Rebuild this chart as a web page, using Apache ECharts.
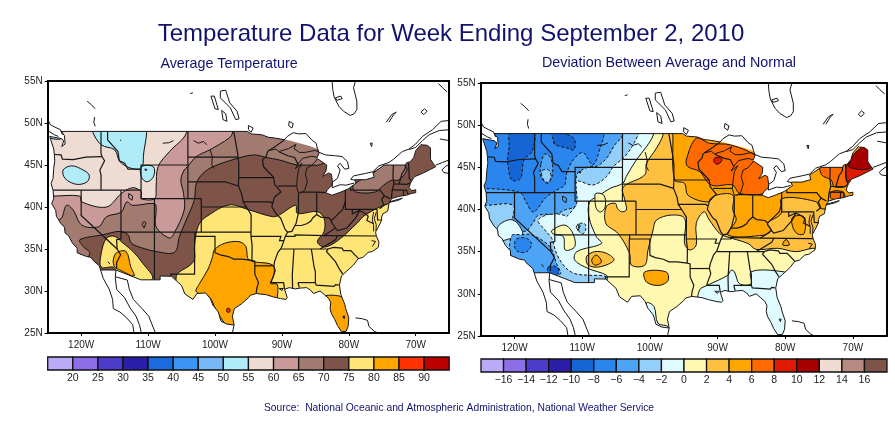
<![CDATA[<!DOCTYPE html>
<html><head><meta charset="utf-8">
<script src="https://cdn.jsdelivr.net/npm/echarts@6/dist/echarts.min.js"></script>
<style>html,body{margin:0;padding:0;background:#fff}#c{width:895px;height:423px}</style>
</head><body><div id="c"></div>
<script>
// ---------- text ----------
const mainTitle = 'Temperature Data for Week Ending September 2, 2010';
const leftTitle = 'Average Temperature';
const rightTitle = 'Deviation Between Average and Normal';
const sourceNote = 'Source:  National Oceanic and Atmospheric Administration, National Weather Service';

// ---------- colour scales (lower bound of each band) ----------
const tempBands = [15,20,25,30,35,40,45,50,55,60,65,70,75,80,85,90];
const tempColors = ['#bbaaf8','#8b6ee8','#4b3bc8','#2b1ea8','#1a6ae0','#3a95f5','#76b8f5','#b0ecf8','#eedcd2','#c99a98','#a17b6f','#7e5449','#ffe476','#ffa500','#ff3300','#bb0000'];
const devBands = [-18,-16,-14,-12,-10,-8,-6,-4,-2,0,2,4,6,8,10,12,14,16];
const devColors = ['#bbaaf8','#8b6ee8','#4b3bc8','#2b1ea8','#1565d5','#2a85ee','#4da3f5','#93cff8','#e0fbff','#fff8b0','#ffc040','#ffa500','#ff6a00','#e01a00','#a80000','#eedcd2','#b58a80','#7e5449'];

// ---------- geography (lon, lat) ----------
const coastSouthEast = [[-124.7,48.4],[-124.1,46.9],[-124,46.2],[-123.95,45.5],[-124.1,44.6],[-124.2,43.4],[-124.5,42.8],[-124.2,42],[-124.1,41],[-124.4,40.4],[-123.8,39.6],[-123.7,38.9],[-123,38],[-122.5,37.6],[-122.4,36.9],[-121.9,36.6],[-121.3,35.7],[-120.6,35.1],[-120.6,34.55],[-119.2,34.1],[-118.5,34],[-118.3,33.7],[-117.3,33],[-117.1,32.5],[-114.8,32.5],[-111.07,31.33],[-108.2,31.33],[-108.2,31.78],[-106.5,31.75],[-105,30.65],[-104.5,29.65],[-103.3,29],[-102.7,29.7],[-101.4,29.77],[-100.7,29.1],[-100.3,28.3],[-99.5,27.5],[-99.1,26.4],[-98.2,26.05],[-97.15,25.95],[-97.4,27],[-97.1,27.9],[-96,28.5],[-95,29.2],[-94.7,29.5],[-93.8,29.7],[-92.3,29.55],[-91.3,29.3],[-90.2,29.1],[-89.4,29],[-89.2,29.2],[-89.6,30.2],[-88.9,30.4],[-88,30.25],[-87.2,30.35],[-86.3,30.4],[-85.7,30.1],[-85.3,29.7],[-84.3,30],[-83.7,29.6],[-83,29.1],[-82.7,28.6],[-82.8,27.9],[-82.6,27.3],[-82.1,26.6],[-81.7,25.9],[-81.1,25.15],[-80.4,25.2],[-80.1,25.8],[-80,26.8],[-80.5,28],[-80.6,28.4],[-81.2,29.6],[-81.4,30.7],[-81.1,31.8],[-80.4,32.3],[-79.3,33.1],[-78.6,33.85],[-77.9,34],[-77.1,34.6],[-76.5,34.7],[-75.6,35.2],[-75.5,35.8],[-75.9,36.6],[-76,37],[-75.95,37.1],[-75.6,37.6],[-75.1,38.4],[-75.1,38.8],[-74.9,39.2],[-74.2,39.5],[-74,40.4],[-73.9,40.6],[-73.6,41],[-72.5,41.27],[-71.4,41.4],[-70.7,41.6],[-70,41.7],[-70,42.05],[-70.6,41.95],[-71,42.3],[-70.8,42.8],[-70.6,43.1],[-70.2,43.6],[-69,44],[-68,44.4],[-67,44.8],[-67.4,45.2],[-67.8,45.7],[-67.8,47.05],[-68.3,47.35],[-69,47.4],[-69.2,47.45],[-70,46.7],[-70.3,45.9],[-70.8,45.4],[-71.4,45.25],[-71.5,45],[-74.7,45],[-75.8,44.4],[-76.4,44.1],[-76.2,43.55],[-77.5,43.25],[-79.1,43.25],[-79,42.9],[-78.9,42.85],[-80.1,42.15],[-81.3,41.75],[-82.5,41.4],[-83.45,41.7],[-83.15,42.1],[-82.5,42.6],[-82.45,43],[-82.6,43.9],[-83,44.05],[-83.9,43.65],[-83.4,44.3],[-83.3,45],[-84.7,45.75]];
const michiganShore = [[-85,45.4],[-85.6,44.9],[-86.2,44.7],[-86.5,43.9],[-86.2,43],[-86.6,42],[-87.2,41.65],[-87.6,41.8],[-87.8,42.5],[-87.7,43.5],[-87.5,44.5],[-87,45.2],[-88,44.55],[-87.6,45.1],[-86.9,45.8],[-85.5,46.05],[-84.75,45.9]];
const superiorShore = [[-84.4,46.5],[-85,46.75],[-86.5,46.5],[-87.4,46.5],[-88.2,46.95],[-87.9,47.45],[-89,46.95],[-90.5,46.6],[-90.9,46.9],[-92,46.7],[-90.8,47.3],[-89.6,48]];
const gridSuperiorEdge = [[-84.4,46.5],[-84.6,46.9],[-86,47.3],[-88.7,47.9],[-90,48.1],[-91,48.2]];
const borderNorthWest = [[-91,48.2],[-92,48.3],[-93,48.6],[-94.6,48.7],[-95.15,49],[-123,49],[-122.5,48.5],[-122.4,47.5],[-122.9,47.2],[-122.6,47.9],[-123,48.15]];

const stateLines = [
 [[-124,46.25],[-123,46.2],[-122.8,45.7],[-121.2,45.65],[-119.3,45.93],[-116.9,46]],
 [[-117.03,49],[-117.04,46.4],[-116.9,46],[-116.5,45.5],[-117.2,44.4],[-117.03,43.8],[-117.03,42]],
 [[-124.2,42],[-111.05,42]],
 [[-120,42],[-120,39],[-114.63,35],[-114.1,34.3],[-114.7,33.4],[-114.7,32.7]],
 [[-114.05,42],[-114.05,36.2],[-114.7,36.1],[-114.63,35]],
 [[-114.05,37],[-94.62,37]],
 [[-109.05,41],[-109.05,31.33]],
 [[-111.05,44.5],[-111.05,41],[-102.05,41]],
 [[-116.05,49],[-116.05,48],[-114.5,46.6],[-114.3,45.5],[-113.5,45.2],[-113,44.5],[-111.05,44.5],[-111.05,45],[-104.05,45]],
 [[-104.05,49],[-104.05,41]],
 [[-102.05,41],[-102.05,37]],
 [[-102.05,40],[-95.3,40]],
 [[-104.05,45.94],[-96.56,45.94]],
 [[-104.05,43],[-98.5,43],[-96.5,42.5]],
 [[-97.2,49],[-96.6,46.3],[-96.56,45.94],[-96.45,45.3],[-96.45,43.5],[-91.22,43.5]],
 [[-96.45,43.5],[-96.5,42.5],[-96,41.5],[-95.8,40.6],[-95.3,40],[-94.6,39.1],[-94.62,36.5],[-94.45,35.4],[-94.48,33.64],[-94.05,33.55],[-94.05,32],[-93.5,31],[-93.75,30.3],[-93.85,29.7]],
 [[-95.8,40.6],[-91.7,40.6],[-91.4,40.4]],
 [[-92.1,46.7],[-92.3,46.1],[-92.9,45.6],[-92.75,44.8],[-91.22,43.5],[-91.1,42.7],[-90.15,41.8],[-91.1,41.2],[-91.4,40.4],[-91.5,40],[-90.7,39],[-90.2,38.7],[-89.5,37.3],[-89.15,37],[-89.5,36.5],[-89.7,36],[-90.1,35.1],[-90.6,34.6],[-91.1,33.5],[-91.2,33],[-91,32.4],[-91.5,31.3],[-91.6,31],[-89.75,31],[-89.6,30.2]],
 [[-90.64,42.5],[-87.8,42.5]],
 [[-90.4,46.55],[-89.1,46.1],[-88.1,45.9],[-87.6,45.1]],
 [[-87.53,41.7],[-87.53,39.3],[-87.9,38],[-88.05,37.8],[-88.5,37.1],[-89.15,37]],
 [[-84.8,41.7],[-84.8,39.1]],
 [[-87.2,41.76],[-84.8,41.76],[-83.45,41.7]],
 [[-88.05,37.8],[-87.1,37.8],[-86.3,38],[-85.7,38.3],[-85.4,38.7],[-84.8,39.1],[-84.2,38.8],[-83,38.7],[-82.6,38.4],[-81.8,39],[-80.9,39.7],[-80.52,40.64]],
 [[-80.52,42],[-80.52,39.72],[-75.79,39.72],[-75.7,38.46],[-75.05,38.45]],
 [[-79.76,42.27],[-79.76,42],[-75.35,42],[-74.7,41.35],[-75.1,40.9],[-74.75,40.2],[-75.4,39.8]],
 [[-74.7,41.35],[-73.9,41]],
 [[-79.48,39.72],[-79.48,39.2],[-78.4,39.6],[-77.7,39.3],[-77.1,38.9],[-77.3,38.4],[-76.3,38]],
 [[-78.4,39.6],[-78.9,38.8],[-80.3,37.5],[-81.7,37.2],[-82,37.5],[-82.6,38.2],[-82.6,38.4]],
 [[-82,37.5],[-83.68,36.6]],
 [[-89.5,36.5],[-88.05,36.5],[-88.05,36.68],[-83.68,36.6],[-75.9,36.55]],
 [[-94.62,36.5],[-90.15,36.5],[-90.35,36],[-89.7,36]],
 [[-81.68,36.59],[-82,36.1],[-84.3,35]],
 [[-90.1,35],[-83.1,35],[-82.3,35.2],[-81,35.1],[-80.8,34.8],[-79.7,34.8],[-78.55,33.85]],
 [[-83.1,35],[-83.35,34.7],[-82,33.5],[-81.4,32.6],[-80.9,32]],
 [[-85.6,35],[-85.2,32.9],[-85,32.3],[-85,31],[-84.86,30.7],[-82.2,30.55],[-82,30.75],[-81.5,30.7]],
 [[-87.6,31],[-85,31]],
 [[-87.6,31],[-87.4,30.4]],
 [[-88.2,35],[-88.45,31.9],[-88.4,30.3]],
 [[-94.05,33],[-91.2,33]],
 [[-100,34.56],[-99.2,34.3],[-98,34.1],[-97.2,33.8],[-96,33.8],[-94.48,33.64]],
 [[-103,37],[-103,36.5],[-100,36.5],[-100,34.56]],
 [[-103.04,36.5],[-103.05,32],[-106.6,32],[-106.5,31.75]],
 [[-71.5,45],[-71.6,44.5],[-72.05,44],[-72.5,42.73]],
 [[-73.35,45],[-73.4,43.6],[-73.25,42.75],[-71.3,42.7],[-70.8,42.87]],
 [[-71.08,45.3],[-70.97,43.4],[-70.7,43.1]],
 [[-73.27,42.75],[-73.5,42.05],[-73.65,41]],
 [[-73.5,42.05],[-71.8,42.02],[-71.38,42.02],[-71.15,41.5]],
 [[-71.8,42.02],[-71.85,41.32]]
];

const lakeLines = [
 [[-112.9,41.6],[-112.3,41.3],[-112.4,40.8],[-112.9,41.1],[-112.9,41.6]],
 [[-107.8,47.6],[-106.9,47.65],[-106.2,47.9]],
 [[-103.2,47.9],[-102.5,47.6],[-101.7,47.8],[-101.2,47.4]],
 [[-100.7,46.8],[-100.4,45.9],[-100.5,45.1],[-100.2,44.6]],
 [[-110.9,37.9],[-110.6,37.5],[-110.3,38.1],[-110.6,38.3],[-110.9,37.9]],
 [[-80.9,27],[-80.6,27],[-80.7,26.7],[-80.9,27]],
 [[-90.4,30.3],[-89.8,30.3],[-90,30.05],[-90.4,30.3]],
 [[-114.2,47.9],[-114,48]],
 [[-116,33.5],[-115.7,33.2]],
 [[-110.5,44.5],[-110.2,44.5],[-110.3,44.3],[-110.5,44.5]],
 [[-76.3,39.4],[-76.5,38.5],[-76.3,37.9],[-76.3,37.1]],
 [[-75.95,37.15],[-75.9,37.9],[-76.2,38.6],[-75.9,39.4]],
 [[-76.5,35.3],[-76,35.9],[-76.6,36]],
 [[-74,40.6],[-72,41.05],[-72.6,40.8],[-73.9,40.55]]
];

const foreignLines = [
 [[-125,50.4],[-124.6,49.8],[-123.9,49.5],[-123.1,49.2],[-122.8,48.6]],
 [[-125,49.1],[-124,48.6],[-123.4,48.4]],
 [[-119.1,52.6],[-118.5,52.2],[-117.9,51.7]],
 [[-118,50.7],[-118.1,50.1],[-117.9,49.6]],
 [[-103.7,53.5],[-103.3,53.6]],
 [[-99.2,53.8],[-98.4,53.9],[-97.8,52.4],[-96.7,51.4],[-96.4,50.5],[-96.9,50.4],[-97.7,51.8],[-99.2,53],[-99.2,53.8]],
 [[-100.6,53.2],[-100.1,53.2],[-99.5,51.6],[-100,51.7],[-100.6,53.2]],
 [[-99,51.5],[-98.4,51.1],[-98.2,50.2],[-98.8,50.4],[-99,51.5]],
 [[-95,49.7],[-94.3,49.4],[-94.6,48.9],[-95,49.2],[-95,49.7]],
 [[-88.9,50.2],[-88.3,49.9],[-88.5,49.4],[-89,49.7],[-88.9,50.2]],
 [[-92,46.7],[-91,47.2],[-89.6,48],[-89.2,48.4],[-88.3,48.85],[-87.5,48.7],[-86.4,48.75],[-85.5,47.95],[-84.9,47.6],[-84.7,47],[-84.5,46.5]],
 [[-84.4,46.5],[-83.5,46.2],[-82,46.1],[-81,46],[-80.2,45.4],[-80,44.6],[-80.6,44.5],[-81.3,45.2],[-81.7,44.9],[-81.3,44.4],[-81.7,43.4],[-82.4,43]],
 [[-82.45,42.9],[-82.5,42.3],[-81.3,42.65],[-80.4,42.6],[-79.2,42.85]],
 [[-79.1,43.2],[-79.7,43.3],[-79.3,43.7],[-77.5,44],[-76.4,44.2],[-75.5,44.9],[-74,45.3],[-73.3,45.7],[-72,46.6],[-71,46.9],[-70,47.5],[-69,48.4],[-67.5,49.2],[-66.2,50.2],[-65,50.3]],
 [[-71,46.85],[-70,47.1],[-69,47.9],[-68,48.6],[-66.5,49.1],[-65,49.2]],
 [[-66.4,48.1],[-65,47.9]],
 [[-67,45],[-66,45.3],[-65,45.6]],
 [[-65,44],[-65.8,44.1],[-66.1,44.4],[-65.6,44.8],[-65,45.1]],
 [[-82.5,55],[-82.4,54],[-82.2,53.1],[-81.5,52],[-80.8,51.4],[-79.8,50.9],[-79.2,51.1],[-78.8,51.6],[-78.8,52.6],[-79.3,54.2],[-79,55]],
 [[-82,53],[-81.2,53.2],[-81,52.9],[-81.8,52.7],[-82,53]],
 [[-76.8,47.6],[-76.5,47.6],[-76.6,47.2],[-76.8,47.6]],
 [[-74.4,50.1],[-73.6,51],[-72.9,51.3],[-73.3,51],[-74,50.1]],
 [[-69.2,51.3],[-68.7,51.7],[-68.3,51.4],[-68.8,51],[-69.2,51.3]],
 [[-66.6,54.7],[-66,54.2],[-65.3,53.7]],
 [[-117.1,32.5],[-116.7,31.5],[-115.8,30.2],[-115.3,29],[-115.2,27.9],[-114.2,27.5],[-113.2,26.8],[-112.3,26],[-112.1,25]],
 [[-114.8,32.5],[-114.9,31.6],[-114.7,30.2],[-113.5,29.2],[-112.7,28],[-111.8,27],[-111.3,26],[-111,25]],
 [[-114.9,31.7],[-113.1,31.3],[-112.8,30.2],[-112.2,29],[-110.9,27.9],[-109.9,27],[-109.2,25.6],[-108.9,25]],
 [[-97.15,25.95],[-97.4,25]],
 [[-79,26.8],[-78,26.7],[-77.2,26.5],[-77,25.8],[-76.2,25.2],[-75.6,25]]
];

// ---------- filled bands (band = lower bound of the colour scale; later ones paint on top) ----------
const tempRegions = [
 {band:65, pts:[[-128,52],[-84,52],[-84.5,46.8],[-83.7,45.4],[-84.5,45],[-86,45],[-87.7,45],[-90.4,45.6],[-92.4,45.9],[-94.1,46.2],[-96.6,45.8],[-100.3,44.8],[-101.8,44],[-102.8,42.8],[-103.1,40.8],[-104.3,38.45],[-105.3,36.5],[-106.05,34.6],[-108.8,34.7],[-110.8,35.1],[-112.5,35.7],[-113,36.7],[-114.2,37.1],[-116.7,36.7],[-120.2,36.1],[-119.7,35.3],[-118.7,34.5],[-120,33.5],[-128,33.5]]},
 {band:65, pts:[[-79.3,42.6],[-75.55,44.6],[-76,46],[-71.6,46],[-71.6,45],[-71.3,44.4],[-72.6,43.2],[-73.55,43.2],[-74.8,42.6],[-76,41.8],[-79,41.8]]},
 {band:60, pts:[[-97.4,52],[-97.4,48.8],[-97.9,48.2],[-100.8,46.8],[-102.8,46],[-104.1,44.8],[-104.6,44.4],[-105.1,43.2],[-104.7,41.6],[-104.6,39.64],[-106.1,36.9],[-106.8,36.3],[-108.8,37.65],[-108.8,39.64],[-109,40.4],[-112.3,40.2],[-113.2,40.6],[-114,39.4],[-116.2,38.85],[-117.4,37.65],[-119.9,37.85],[-121.2,39.64],[-122.2,40.2],[-123.2,38.5],[-128,38.5],[-128,52]]},
 {band:55, pts:[[-104.3,52],[-104.3,48.8],[-106.8,46.6],[-108.5,44.8],[-108.8,42.4],[-109,41],[-111,41],[-111,41.8],[-112.3,42.3],[-114,41.6],[-116.2,40],[-119.9,40.6],[-120.2,41.3],[-124.2,41.3],[-128,41.3],[-128,52]]},
 {band:50, pts:[[-118.3,50],[-118.3,49],[-117,47.4],[-115,46.8],[-114.2,45.4],[-112.5,44.6],[-111,44.6],[-110.7,46],[-110.7,50]]},
 {band:50, pts:[[-111,44.8],[-109.2,44.8],[-109.2,43.6],[-110.2,43],[-111,43.6]]},
 {band:50, pts:[[-122.7,44.4],[-121.4,44.9],[-119.7,44.4],[-118.8,43.8],[-119.1,43],[-120.7,42.7],[-122.4,43.4]]},
 {band:50, pts:[[-125,49],[-123,49],[-122.7,48.2],[-124.6,48.2]]},
 {band:75, pts:[[-72,40.4],[-74.06,40.4],[-77.55,39.05],[-78.8,38.05],[-81.25,36.25],[-83,35.35],[-84,35.3],[-84.7,35.9],[-83.7,37.06],[-83.7,38.65],[-84.7,39.44],[-87.7,39.25],[-87.95,40.2],[-90.4,39.05],[-91.4,38.85],[-94.9,39.65],[-97.87,40.25],[-101.3,38.85],[-102.3,38.05],[-102.8,36.9],[-103.07,35.3],[-103.2,33.5],[-105.6,32.1],[-105.8,31.7],[-105.8,24],[-70,24]]},
 {band:75, pts:[[-116.2,36.3],[-115,36.5],[-113.75,35.7],[-112.25,34.7],[-110.8,33.3],[-109.3,31.5],[-111.5,31],[-112.25,31.4],[-114.7,32.4],[-115.2,32.85],[-117,32.85],[-117,34.5]]},
 {band:80, pts:[[-115.2,33.7],[-114.7,34.56],[-113.3,34.7],[-112.6,32.9],[-112.1,31.8],[-114.2,32.5],[-115,32.9]]},
 {band:80, pts:[[-100.1,34.9],[-98.6,35.67],[-96.4,35.87],[-95.4,35.3],[-94.9,33.7],[-91.4,33.1],[-91.2,31.9],[-91.7,30.9],[-90.7,30.8],[-90.7,29.2],[-91,28],[-97,24],[-98.4,25.95],[-99.85,27.7],[-100.85,29.3],[-102.8,29.9],[-102.3,30.9],[-101.1,32.5],[-100.35,34.1]]},
 {band:80, pts:[[-84,29.1],[-81.4,29.4],[-80,28.5],[-79,27],[-79,24.5],[-84,24.5]]},
 {band:85, pts:[[-98.2,27.9],[-97.8,27.9],[-97.8,27.5],[-98.2,27.5]]}
];
const tempBase = 70;
const tempLabels = [['55',-119.9,42.4],['60',-110,41.3],['65',-121.9,40.6],['70',-94.15,46.6],['75',-98.1,40.6],['65',-106,36.3],['70',-106,34.6],['80',-98,36],['70',-78.2,41.4],['75',-82.15,35.15],['75',-114.1,36.2]];

const devRegions = [
 {band:-2, pts:[[-128,50],[-99.5,50],[-99.5,48.83],[-100.5,47.45],[-102,45.87],[-103.5,43.9],[-104,43.1],[-105.9,42.5],[-107.4,41.7],[-108.9,40.9],[-109,39.1],[-107.9,36.77],[-107.15,35.97],[-110.8,35],[-111.1,34],[-109.1,33],[-106.4,32.2],[-106.4,31.6],[-110,29],[-128,29]]},
 {band:-4, pts:[[-128,50],[-101.6,50],[-101.75,48.83],[-103.5,46.46],[-105.4,45.08],[-106.4,43.9],[-108.4,42.9],[-110.8,43.3],[-110.9,40.7],[-112.3,39.15],[-112.56,39.3],[-114.5,39.5],[-116.5,38.75],[-115.5,37.56],[-114.5,36.57],[-113.8,34.8],[-112.56,33.2],[-111.1,32.4],[-108.9,32.2],[-106.66,32.1],[-106.4,31.6],[-110,30],[-128,30]]},
 {band:-6, pts:[[-128,50],[-104,50],[-104,48.8],[-105.2,47.65],[-106.4,46.07],[-107.9,45.1],[-108.9,45.1],[-110.8,44.1],[-110.9,40.5],[-112.56,39.95],[-113.8,39.5],[-116.5,39.3],[-117.2,38.5],[-118.5,37.4],[-120.2,38.55],[-120.2,40.5],[-124.1,40.5],[-128,40.5]]},
 {band:-2, pts:[[-122.5,37.9],[-120.7,38.8],[-119.5,38.3],[-118.8,36.9],[-120.4,36.6],[-122,36.4]]},
 {band:-6, pts:[[-120.4,36.9],[-119,37],[-117.5,37],[-114.8,35.6],[-113.8,33.6],[-113.3,32.3],[-118,32.3],[-120.5,34.5]]},
 {band:-8, pts:[[-128,50],[-106.8,50],[-106.8,48.8],[-107.2,47.65],[-108.4,45.3],[-109.9,46.75],[-111.3,45.9],[-112.3,44.3],[-112.6,42.9],[-113.8,42.3],[-115.4,41.4],[-117.2,39.7],[-118.3,40.9],[-119.2,42],[-124.1,42.5],[-128,42.5]]},
 {band:-6, pts:[[-116.1,45.4],[-115.5,46.6],[-114.6,46],[-114.4,44.1],[-115.1,43.1],[-116.1,43.9]]},
 {band:-4, pts:[[-115.9,44.6],[-115,44.7],[-114.6,43.9],[-115.1,43.2],[-115.9,43.8]]},
 {band:-10, pts:[[-120.6,49.2],[-117.2,49.2],[-117.4,46.9],[-118.6,45.9],[-119.1,43.7],[-120.4,43.5],[-121,45.4],[-121,46.2],[-120.8,47.4]]},
 {band:-10, pts:[[-114.4,49.2],[-111.3,48.5],[-111.2,47.1],[-112.3,47.3],[-114,47.7],[-114.3,48.3]]},
 {band:-8, pts:[[-119.7,36.5],[-118.3,36.6],[-117.5,35.9],[-118.2,35],[-119.5,35],[-120,35.7]]},
 {band:-10, pts:[[-115,33.2],[-113.8,33.2],[-113.5,32.4],[-115,32.4]]},
 {band:0, pts:[[-108,41.9],[-106.8,41.7],[-106.6,40.3],[-107.3,39.7],[-107.9,40.1],[-108.1,41.1]]},
 {band:0, pts:[[-114.5,37.5],[-112.6,38.15],[-111.4,37.2],[-111.1,35.6],[-112.5,35.2],[-112.8,36.8],[-114.3,37.1]]},
 {band:-4, pts:[[-110.4,38.3],[-109.6,38.3],[-109.5,37.5],[-110,37.1],[-110.5,37.5]]},
 {band:-2, pts:[[-100.5,28.9],[-99.4,28.5],[-98.8,26.5],[-97.3,26.1],[-97.6,25],[-100.5,25]]},
 {band:-2, pts:[[-92.66,30.44],[-91.43,31.04],[-88.48,32.2],[-88,32.8],[-87.5,32.6],[-86.76,31.2],[-85.04,31.2],[-85.04,32.6],[-81.1,32.7],[-79,32],[-79,25],[-83,25],[-84,29],[-92.66,28.5]]},
 {band:2, pts:[[-98.06,50],[-98.06,48.83],[-99.04,47.25],[-100.5,45.47],[-100.76,44.1],[-103.96,42.63],[-103.7,41.13],[-103.47,39.94],[-104.2,39.74],[-104.8,40.14],[-105.1,40.73],[-106.4,40.4],[-106.5,38.35],[-104.7,37.16],[-103,34.8],[-102.73,33.4],[-100.76,33.4],[-100.27,35.2],[-99.53,37.56],[-99.04,38.74],[-96.8,39.34],[-94.87,38.94],[-94.87,35.98],[-94.13,35.2],[-93.15,35.78],[-93.15,38.35],[-92,39.73],[-91.2,38.74],[-89.7,37.16],[-88.97,36.85],[-85.5,35.97],[-84.3,35.27],[-81.1,35.4],[-78.4,35],[-75.9,35.4],[-70,35.4],[-65,40],[-65,50]]},
 {band:4, pts:[[-96.6,50],[-96.6,48.83],[-96.35,43.5],[-94.87,43.1],[-94.38,41.7],[-91.43,40.9],[-90.2,41.7],[-87.74,41.7],[-87.74,39.94],[-87.25,38.76],[-88.48,36.97],[-83.07,36.97],[-82.09,37.56],[-82.6,38.35],[-80.6,39.53],[-80.5,41.3],[-75.45,40.93],[-74.7,40.1],[-72,40.3],[-65,42],[-65,50]]},
 {band:4, pts:[[-78.9,39.1],[-77.2,39.1],[-77.2,37.16],[-78.15,37.1],[-78.9,37.95]]},
 {band:4, pts:[[-80.37,35.8],[-79.87,36.45],[-79.4,35.8]]},
 {band:4, pts:[[-100.76,32.6],[-97.6,32.6],[-97.3,31.6],[-98.6,31],[-100.5,31.4]]},
 {band:2, pts:[[-109.36,34.4],[-108.14,35],[-106.4,34.8],[-105.3,34],[-107.4,33.2],[-109.1,33.4]]},
 {band:4, pts:[[-108.6,34],[-107.9,34.6],[-107.15,33.8],[-108.14,33.4]]},
 {band:6, pts:[[-94.62,45.87],[-93.15,48.44],[-91.18,47.85],[-88,47.65],[-84.05,46.26],[-83.07,45.08],[-82.1,43.1],[-83.07,41.92],[-86.76,41.92],[-87.74,42.9],[-90.94,42.9],[-92.66,44.5],[-94.38,45.08]]},
 {band:8, pts:[[-90.45,46.07],[-89.7,46.2],[-89.36,45.8],[-90.05,45.36],[-90.54,45.67]]},
 {band:6, pts:[[-74.7,45.4],[-70.88,45.4],[-70.88,42.9],[-72.75,42.7],[-73.2,43.5],[-74.6,44.1]]},
 {band:6, pts:[[-73.2,42.1],[-71.5,42.1],[-71.5,41.3],[-73.2,41.3]]},
 {band:8, pts:[[-70.9,45.2],[-69.55,45.9],[-67,45],[-67,44],[-69.5,43.5],[-70.9,43.5]]},
 {band:10, pts:[[-70.5,45],[-70.3,46],[-69.3,47],[-67.6,47.6],[-67.3,45]]}
];
const devBase = 0;
const devLabels = [['−8',-115.6,48.3],['−6',-111.8,45],['−4',-109.86,45],['−2',-109.86,43.3],['−6',-121.75,42.7],['−4',-121.9,40.6],['0',-111.9,35.07],['2',-108,33.1],['2',-102,32.9],['6',-88.1,42.9],['2',-92,39.5],['4',-86,39.1],['0',-88,32.7]];

// ---------- axis ticks ----------
const lonTicks = [-120,-110,-100,-90,-80,-70];
const latTicks = [25,30,35,40,45,50,55];

// ---------- drawing ----------
const FONT = '"Liberation Sans", Arial, sans-serif';
const INK = '#1c1c1c';
const lonFmt = v => Math.abs(v) + 'W';
const latFmt = v => v + 'N';
const fillOutline = coastSouthEast.concat(gridSuperiorEdge, borderNorthWest);
const coastOutline = coastSouthEast.concat(michiganShore, superiorShore, borderNorthWest, [coastSouthEast[0]]);

function colorOf(bands, colors, b){ return colors[bands.indexOf(b)]; }

function mapAxes(gridIndex){
  const base = {gridIndex, type:'value', z:10, splitLine:{show:false}};
  const line = {show:true, onZero:false, lineStyle:{color:'#000', width:2}};
  const txt = {color:INK, fontFamily:FONT, fontSize:10};
  return {
    x:[
      Object.assign({}, base, {position:'bottom', min:-125, max:-65, axisLine:line,
        axisTick:{show:true, length:3, inside:false, customValues:lonTicks, lineStyle:{color:'#000'}},
        axisLabel:Object.assign({show:true, margin:7, formatter:lonFmt, customValues:lonTicks, showMinLabel:true, showMaxLabel:true}, txt)}),
      Object.assign({}, base, {position:'top', min:-125, max:-65, axisLine:line, axisTick:{show:false}, axisLabel:{show:false}})
    ],
    y:[
      Object.assign({}, base, {position:'left', min:25, max:55, axisLine:line,
        axisTick:{show:true, length:3, customValues:latTicks, lineStyle:{color:'#000'}},
        axisLabel:Object.assign({show:true, margin:5, formatter:latFmt, customValues:latTicks, showMinLabel:true, showMaxLabel:true}, txt)}),
      Object.assign({}, base, {position:'right', min:25, max:55, axisLine:line, axisTick:{show:false}, axisLabel:{show:false}})
    ]
  };
}

function polyItem(api, pts, style, smooth){
  const points = pts.map(p => api.coord(p));
  return {type:'polygon', shape:{points, smooth:smooth||0}, style, silent:true};
}

function mapSeries(xi, yi, bands, colors, baseBand, regions, labels){
  const common = {type:'custom', coordinateSystem:'cartesian2d', xAxisIndex:xi, yAxisIndex:yi, clip:true, silent:true, animation:false};
  const ring = [[-128,60],[-60,60],[-60,20],[-128,20],[-128,60]];
  const maskPts = ring.concat([fillOutline[0]], fillOutline, [fillOutline[0]], [[-128,60]]);
  const lines = [].concat(stateLines, lakeLines, foreignLines, [coastOutline]);
  return [
    Object.assign({}, common, {z:2, data:[[0]], renderItem:(p,api)=>polyItem(api, fillOutline, {fill:colorOf(bands,colors,baseBand)})}),
    Object.assign({}, common, {z:3, data:regions.map((r,i)=>[i]), renderItem:(p,api)=>{
      const r = regions[p.dataIndex];
      return polyItem(api, r.pts, {fill:colorOf(bands,colors,r.band), stroke:'#111', lineWidth:1, lineDash:r.band<-2?[3,2]:null}, 0.35);
    }}),
    Object.assign({}, common, {z:4, data:[[0]], renderItem:(p,api)=>polyItem(api, maskPts, {fill:'#fff'})}),
    Object.assign({}, common, {z:5, data:lines.map((l,i)=>[i]), renderItem:(p,api)=>({
      type:'polyline', silent:true, shape:{points:lines[p.dataIndex].map(q=>api.coord(q))}, style:{fill:'none', stroke:'#161616', lineWidth:p.dataIndex<stateLines.length?1.2:1}
    })}),
    {type:'scatter', xAxisIndex:xi, yAxisIndex:yi, z:6, silent:true, animation:false, symbolSize:1, itemStyle:{opacity:0},
      data:labels.map(l=>({value:[l[1],l[2]], name:l[0]})),
      label:{show:true, position:'inside', formatter:p=>p.name, fontFamily:FONT, fontSize:9.5, color:'#111', backgroundColor:'#fff', padding:[1,1,0,1]}}
  ];
}

function barSeries(xi, yi, bands, colors){
  const step = bands[1]-bands[0];
  return {type:'custom', coordinateSystem:'cartesian2d', xAxisIndex:xi, yAxisIndex:yi, silent:true, animation:false, z:3,
    data:bands.map(b=>[b]),
    renderItem:(p,api)=>{
      const b = bands[p.dataIndex];
      const a = api.coord([b,1]), c = api.coord([b+step,0]);
      return {type:'rect', shape:{x:a[0], y:a[1], width:c[0]-a[0], height:c[1]-a[1]}, style:{fill:colors[p.dataIndex], stroke:'#111', lineWidth:1.3}, silent:true};
    }};
}

function barAxes(gridIndex, lo, hi, step, fmt){
  return {
    x:{gridIndex, type:'value', min:lo, max:hi, interval:step, splitLine:{show:false}, axisLine:{show:false}, axisTick:{show:false},
       axisLabel:{color:INK, fontFamily:FONT, fontSize:10.5, margin:3, showMinLabel:false, showMaxLabel:false, formatter:fmt}},
    y:{gridIndex, type:'value', min:0, max:1, show:false}
  };
}

const L = mapAxes(0), R = mapAxes(1);
const LB = barAxes(2, 15, 95, 5, v=>String(v));
const RB = barAxes(3, -18, 18, 2, v=> v<0 ? '−'+Math.abs(v) : String(v));

const titleStyle = {fontFamily:FONT, fontWeight:'normal', color:'#12126e'};
const chart = echarts.init(document.getElementById('c'), null, {renderer:'canvas'});
chart.setOption({
  animation:false, backgroundColor:'#fff',
  title:[
    {text:mainTitle, left:451, top:22, textAlign:'center', padding:0, textStyle:Object.assign({fontSize:24}, titleStyle)},
    {text:leftTitle, left:229, top:57, textAlign:'center', padding:0, textStyle:Object.assign({fontSize:14.3}, titleStyle)},
    {text:rightTitle, left:669, top:56, textAlign:'center', padding:0, textStyle:Object.assign({fontSize:14.3}, titleStyle)},
    {text:sourceNote, left:459, top:403, textAlign:'center', padding:0, textStyle:Object.assign({fontSize:10.3}, titleStyle)}
  ],
  grid:[
    {left:47.7, top:81, width:401.5, height:252, containLabel:false},
    {left:480.7, top:83, width:406, height:253, containLabel:false},
    {left:47.7, top:357, width:401.5, height:13},
    {left:481, top:359, width:406, height:13}
  ],
  xAxis:[L.x[0], L.x[1], R.x[0], R.x[1], LB.x, RB.x],
  yAxis:[L.y[0], L.y[1], R.y[0], R.y[1], LB.y, RB.y],
  series:[].concat(
    mapSeries(0,0,tempBands,tempColors,tempBase,tempRegions,tempLabels),
    mapSeries(2,2,devBands,devColors,devBase,devRegions,devLabels),
    [barSeries(4,4,tempBands,tempColors), barSeries(5,5,devBands,devColors)]
  )
});
</script></body></html>]]>
